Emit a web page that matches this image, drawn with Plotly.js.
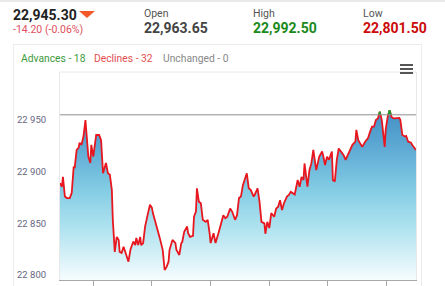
<!DOCTYPE html>
<html>
<head>
<meta charset="utf-8">
<script src="https://cdn.plot.ly/plotly-3.0.1.min.js"></script>
<style>
  html, body { margin:0; padding:0; background:#fff; width:445px; height:286px; overflow:hidden; font-family: Roboto, "Open Sans", sans-serif; }
  .abs { position:absolute; white-space:nowrap; line-height:1; }
  #chart { position:absolute; left:0; top:0; width:445px; height:286px; }
  .topbar { position:absolute; left:0; top:0; width:445px; height:2px; background:#e9e9e9; }
  .card { position:absolute; left:13px; top:44px; width:409px; height:260px; border:1px solid #ececec; box-sizing:border-box; }
  .lbl { font-size:10.5px; color:#555; }
  .big { font-size:14px; font-weight:700; }
  .tri { position:absolute; left:79px; top:11px; width:0; height:0; border-left:8.5px solid transparent; border-right:8.5px solid transparent; border-top:7px solid #f2592a; }
  .ham { position:absolute; left:400px; width:13px; height:2px; background:#555; }
</style>
</head>
<body>
<div class="topbar"></div>
<div class="card"></div>
<div id="chart"></div>

<div class="abs big" style="left:13px; top:8px; color:#222;">22,945.30</div>
<div class="tri"></div>
<div class="abs" style="left:13px; top:25px; font-size:10.5px; color:#e0505e;">-14.20 (-0.06%)</div>

<div class="abs lbl" style="left:144px; top:9px;">Open</div>
<div class="abs big" style="left:144px; top:21px; color:#444;">22,963.65</div>
<div class="abs lbl" style="left:253px; top:9px;">High</div>
<div class="abs big" style="left:253px; top:21px; color:#1a8a1a;">22,992.50</div>
<div class="abs lbl" style="left:363px; top:9px;">Low</div>
<div class="abs big" style="left:363px; top:21px; color:#cc0a0a;">22,801.50</div>

<div class="abs" style="left:21px; top:54px; font-size:10.3px; color:#3d9a3d;">Advances - 18</div>
<div class="abs" style="left:94px; top:54px; font-size:10.3px; color:#e05050;">Declines - 32</div>
<div class="abs" style="left:163px; top:54px; font-size:10.3px; color:#888;">Unchanged - 0</div>

<div class="ham" style="top:64px;"></div>
<div class="ham" style="top:68px;"></div>
<div class="ham" style="top:72px;"></div>

<script>
// Time in minutes of the day, index level values
const minutes = [566,568,569,571,573,576,578,580,581,583,585,586,588,590,592,593,595,597,598,600,
602,603,606,608,610,613,615,617,619,620,622,624,626,627,629,631,632,634,636,638,
639,641,643,644,646,648,649,651,653,655,656,658,
660,661,665,668,671,673,675,677,678,681,684,685,688,690,691,693,696,697,699,702,
703,705,706,708,710,712,715,717,719,720,723,725,728,731,733,735,737,740,742,745,
747,749,751,753,755,757,759,761,764,765,768,770,772,775,776,778,780,782,785,787,
789,791,793,795,798,800,802,804,
806,809,811,813,815,816,819,821,823,825,827,828,831,834,835,837,839,841,844,845,
847,849,851,853,856,858,861,863,865,868,869,871,873,875,878,881,883,885,887,889,
891,893,895,897,898,899,901,903,905,907,910,913,914,916,919,920,922,925,926,928,930];

const prices = [22889,22885.5,22895,22876,22874.5,22874.5,22879.5,22905,22903.5,22921,
22923,22928,22926,22934,22950,22937.5,22914.5,22908.5,22926,22914.5,
22926,22935.5,22935.5,22930.5,22898.5,22908.5,22898.5,22897,22882.5,22853.5,
22822.5,22837,22834,22822.5,22821.5,22827.5,22824.5,22819.5,22813,22824.5,
22827.5,22832.5,22829,22836,22829,22837,22829,22831,22847,22858,
22860,22868,
22865,22860,22847,22836,22824.5,22805,22808,22813,22824.5,22834,
22831,22824.5,22819.5,22831,22832,22842,22847,22840.5,22837,22838,
22856.5,22861.5,22884,22871,22869.5,22853.5,22851.5,22853.5,22840.5,22831,
22840.5,22831,22840.5,22850,22858,22855,22856.5,22864.5,22861.5,22853.5,
22858,22874.5,22876,22887,22892,22898.5,22884,22882.5,22876,22877.5,
22884,22871,22851.5,22850,22840,22851.5,22845.5,22860,22856.5,22864.5,
22866,22872.5,22863,22869.5,22876,22877.5,22880.5,22879,
22878,22892,22885.5,22895,22892,22908,22885.5,22901.5,22908,22921,
22908,22901.5,22914.5,22919.5,22916,22906.5,22914.5,22911.5,22919.5,22892,
22890.5,22911.5,22922.5,22919.5,22916,22911.5,22918,22921,22926,22929,
22940.5,22930.5,22927.5,22924,22929,22932.5,22938.5,22943.5,22943.5,22950,
22951.5,22958,22950,22935.5,22924,22940.5,22953,22959.5,22953,22951.5,
22951.5,22952,22950,22935.5,22934,22934.5,22929,22928,22926,22924,22921];

const refLevel = 22955;            // horizontal reference line
const yTicks = [22800, 22850, 22900, 22950];
const yTickText = ['22\u00a0800', '22\u00a0850', '22\u00a0900', '22\u00a0950'];
const hourTicks = [600, 660, 720, 780, 840, 900];
const hourLabels = ['10:00','11:00','12:00','13:00','14:00','15:00'];

const yMin = 22795.3, yMax = 22996.4;
const splitFrac = (refLevel - yMin) / (yMax - yMin);

const area = {
  x: minutes, y: prices, type: 'scatter', mode: 'lines',
  line: { color: '#e8161e', width: 1.8 },
  fill: 'tozeroy',
  fillgradient: {
    type: 'vertical', start: yMin, stop: refLevel,
    colorscale: [[0, 'rgb(246,252,254)'], [0.3, 'rgb(178,228,240)'], [0.55, 'rgb(130,204,228)'], [0.8, 'rgb(94,170,212)'], [1, 'rgb(70,146,198)']]
  },
  hoverinfo: 'skip', showlegend: false
};
const above = {
  x: minutes, y: prices, type: 'scatter', mode: 'lines',
  xaxis: 'x', yaxis: 'y2',
  line: { color: '#1f9a2a', width: 1.8 },
  hoverinfo: 'skip', showlegend: false
};

const layout = {
  width: 445, height: 286,
  margin: { l: 60, r: 29, t: 72, b: 6 },
  paper_bgcolor: 'rgba(0,0,0,0)', plot_bgcolor: 'rgba(0,0,0,0)',
  showlegend: false,
  xaxis: {
    range: [566, 930], showgrid: false, zeroline: false,
    showline: true, linecolor: '#a8a8a8', linewidth: 1,
    ticks: 'outside', ticklen: 6, tickcolor: '#a8a8a8',
    tickvals: hourTicks, ticktext: hourLabels, showticklabels: false
  },
  yaxis: {
    range: [yMin, yMax], domain: [0, 1], showgrid: false, zeroline: false,
    showline: true, mirror: true, linecolor: '#e8e8e8', linewidth: 1,
    tickmode: 'array', tickvals: yTicks, ticktext: yTickText, ticks: '',
    ticklabelstandoff: 11,
    tickfont: { family: 'Roboto, sans-serif', size: 9.5, color: '#66667f' }
  },
  yaxis2: {
    anchor: 'x', domain: [splitFrac, 1], range: [refLevel, yMax],
    visible: false, showgrid: false, zeroline: false
  },
  shapes: [
    { type: 'line', xref: 'paper', x0: 0, x1: 1, yref: 'y', y0: refLevel, y1: refLevel, line: { color: '#8c8c8c', width: 1 } },
    { type: 'line', xref: 'paper', x0: 0, x1: 1, yref: 'paper', y0: 1, y1: 1, line: { color: '#e8e8e8', width: 1 } }
  ]
};

Plotly.newPlot('chart', [area, above], layout, { displayModeBar: false, staticPlot: true });
</script>
</body>
</html>
